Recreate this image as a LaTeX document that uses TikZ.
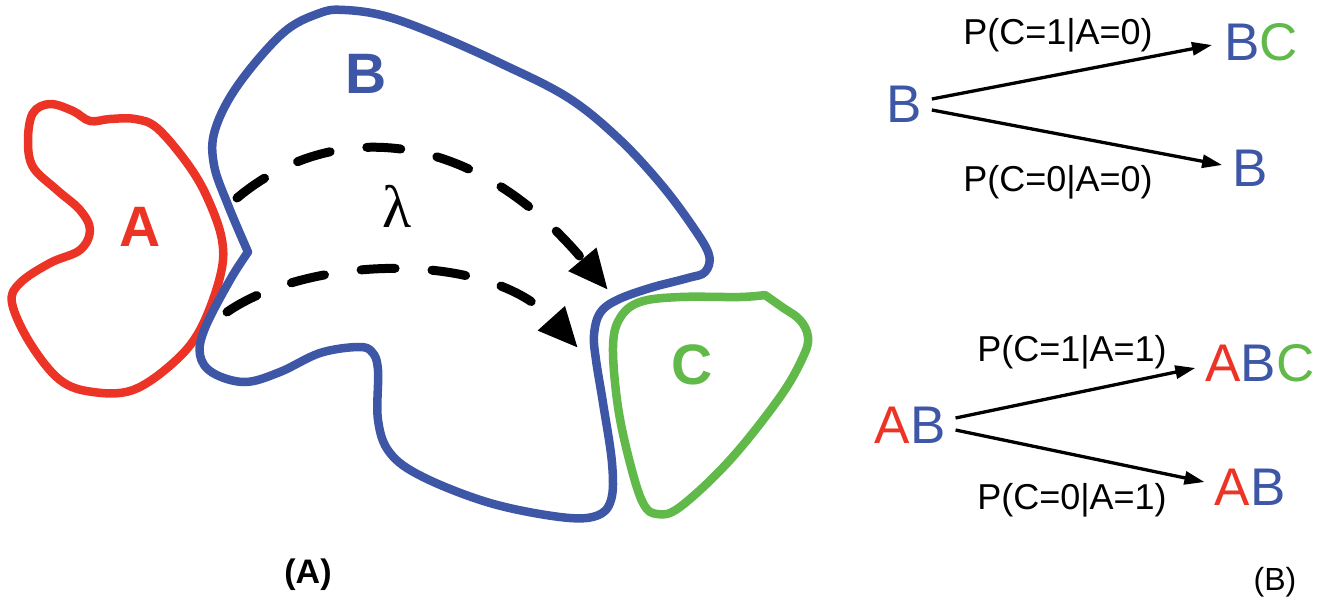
\documentclass[tikz,border=0pt]{standalone}
\usepackage{fontspec}
\setmainfont{Liberation Sans}
\newfontfamily\lamfont{Liberation Serif}
\usetikzlibrary{arrows.meta}
\definecolor{cA}{RGB}{236,52,38}
\definecolor{cB}{RGB}{61,87,166}
\definecolor{cC}{RGB}{96,185,72}
\begin{document}
\begin{tikzpicture}[x=1pt,y=-1pt,
  outline/.style={line width=8.5pt,line join=round,line cap=round},
  biglab/.style={font=\fontsize{57}{60}\selectfont\bfseries,inner sep=0pt},
  flow/.style={line width=9pt,line cap=round,dash pattern=on 34pt off 37pt,
    -{Triangle[length=40pt,width=34pt]}},
  seq/.style={font=\fontsize{53}{60}\selectfont,inner sep=0pt},
  prob/.style={font=\fontsize{36}{40}\selectfont,inner sep=0pt},
  tr/.style={line width=3.3pt,-{Triangle[length=20pt,width=13pt]}}]
\useasboundingbox (0,0) rectangle (1328,606);

% region A (red)
\draw[outline,cA] plot[smooth cycle,tension=0.6] coordinates {
 (50,104) (73,111) (90,121) (110,119) (135,119) (157,128) (187,163) (207,197)
 (222,240) (220,277) (200,330) (173,363) (133,390) (93,392) (60,380) (30,343)
 (12,303) (20,283) (50,263) (80,250) (90,230) (80,210) (57,190) (33,167)
 (28,140) (33,113)};

% region B (blue)
\draw[outline,cB] plot[smooth,tension=0.6] coordinates {
 (248,252) (228,205) (214,165) (215,130) (238,85) (283,33) (320,13) (345,10)
 (385,16) (435,34) (500,63) (567,97) (617,137) (660,183) (693,227) (709,255)
 (705,272) (688,278) (650,288) (617,300) (600,313) (594,335) (596,360)
 (603,403) (612,463) (611,500) (596,516) (560,517) (490,503) (423,477)
 (390,453) (378,420) (378,370) (372,352) (358,347) (320,353) (280,372)
 (245,382) (213,373) (200,355) (205,328) (230,280) (248,252)} -- cycle;

% region C (green)
\draw[outline,cC] plot[smooth,tension=0.6] coordinates {
 (765,295) (782,307) (800,320) (808,337) (803,357) (780,397) (730,460)
 (680,507) (657,514) (643,503) (630,463) (618,407) (613,347) (620,318)
 (640,302) (680,297) (740,297) (765,295)} -- cycle;

\node[biglab,cA] (la) at (140,227) {A};
\node[biglab,cB] (lb) at (366,74) {B};
\node[biglab,cC] (lc) at (692,365) {C};
\node[inner sep=0pt,font=\lamfont\fontsize{60}{62}\selectfont] (lam) at (397,206) {λ};

% dashed transmission arrows
\coordinate (u1) at (237,198);
\coordinate (u2) at (608,290);
\coordinate (d1) at (227,312);
\coordinate (d2) at (578,348);
\draw[flow] (u1) .. controls (330,120) and (470,125) .. (u2);
\draw[flow] (d1) .. controls (310,255) and (490,250) .. (d2);

\node[font=\fontsize{34}{38}\selectfont\bfseries,inner sep=0pt] (pa) at (308,575) {(A)};

% panel B
\node[seq,cB] (b1) at (904,104) {B};
\node[seq] (bc) at (1261,42) {{\color{cB}B}{\color{cC}C}};
\node[seq,cB] (b2) at (1250,168) {B};
\node[prob] (p1) at (1058,35) {P(C=1|A=0)};
\node[prob] (p2) at (1058,182) {P(C=0|A=0)};
\draw[tr] ([xshift=10pt,yshift=5pt]b1.east) -- ([xshift=-12pt,yshift=-3pt]bc.west);
\draw[tr] ([xshift=10pt,yshift=-6pt]b1.east) -- ([xshift=-10pt,yshift=3pt]b2.west);

\node[seq] (ab) at (910,425) {{\color{cA}A}{\color{cB}B}};
\node[seq] (abc) at (1260,363) {{\color{cA}A}{\color{cB}B}{\color{cC}C}};
\node[seq] (ab2) at (1250,487) {{\color{cA}A}{\color{cB}B}};
\node[prob] (p3) at (1072,352) {P(C=1|A=1)};
\node[prob] (p4) at (1072,500) {P(C=0|A=1)};
\draw[tr] ([xshift=10pt,yshift=7pt]ab.east) -- ([xshift=-10pt,yshift=-5pt]abc.west);
\draw[tr] ([xshift=10pt,yshift=-5pt]ab.east) -- ([xshift=-10pt,yshift=5pt]ab2.west);

\node[font=\fontsize{32}{36}\selectfont,inner sep=0pt] (pb) at (1275,582) {(B)};
\end{tikzpicture}
\end{document}
